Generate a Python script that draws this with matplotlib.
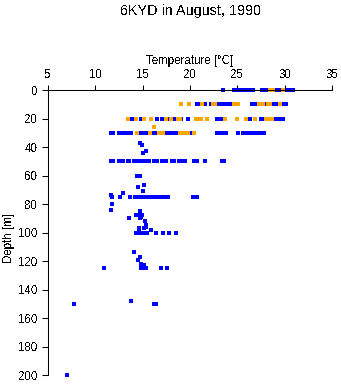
import matplotlib
matplotlib.use("Agg")
import matplotlib.pyplot as plt

plt.rcParams["font.family"] = ["Liberation Sans", "DejaVu Sans"]
plt.rcParams["text.antialiased"] = False
plt.rcParams["lines.antialiased"] = False

title = "6KYD in August, 1990"
x_label = "Temperature [°C]"
y_label = "Depth [m]"
x_ticks = [5, 10, 15, 20, 25, 30, 35]
y_ticks = [0, 20, 40, 60, 80, 100, 120, 140, 160, 180, 200]

# Series 1 (blue): temperature [°C] and depth [m] of each observation
s1_temp_0 = [23.5, 24.7, 24.9, 25.1, 25.3, 25.5, 25.7, 25.9, 26.1, 26.3, 26.5, 26.7,
             27.6, 27.8, 28.0, 28.2, 28.9, 29.1, 29.3, 29.5, 30.1, 30.3, 30.5, 30.7, 30.9]
s1_temp_10 = [20.7, 20.9, 21.1, 21.6, 22.2, 22.9, 23.1, 23.4, 23.6, 23.8, 24.2, 24.4,
              26.5, 26.7, 27.1, 28.0, 28.9, 29.1, 29.3, 29.8, 30.1]
s1_temp_20 = [13.7, 13.9, 14.8, 16.5, 17.0, 17.7, 18.3, 19.1, 19.8, 20.8, 22.9, 23.1,
              23.3, 26.3, 27.5, 27.7, 28.9, 29.1, 29.3, 29.4, 29.8]
s1_temp_30 = [11.7, 11.9, 12.5, 12.7, 12.9, 13.1, 13.3, 13.5, 13.7, 13.8, 14.7, 14.8,
              15.2, 15.4, 16.1, 16.3, 17.0, 17.4, 17.6, 17.8, 18.0, 18.4, 18.6, 20.1,
              22.8, 23.0, 23.3, 23.5, 23.7, 23.8, 25.1, 25.6, 25.9, 26.1, 26.3, 26.5,
              26.7, 26.9, 27.1, 27.3, 27.5, 27.8]
s1_temp_50 = [11.7, 11.9, 12.5, 12.7, 12.9, 13.4, 13.6, 14.1, 14.3, 14.5, 14.7, 14.9,
              15.1, 15.3, 15.7, 16.2, 16.5, 17.0, 17.5, 18.1, 18.3, 18.8, 19.0, 19.5,
              20.4, 20.7, 21.6, 23.4, 23.6]
s1_temp_75 = [11.8, 12.6, 13.7, 14.2, 14.4, 14.6, 14.8, 15.0, 15.2, 15.4, 15.6, 15.8,
              16.0, 16.2, 16.5, 16.7, 16.9, 17.1, 17.3, 17.7, 20.3, 20.7]
s1_temp_100 = [14.3, 14.5, 14.7, 14.9, 15.1, 15.3, 15.5, 16.4, 17.1, 17.8, 18.5]
s1_temp_125 = [10.9, 14.8, 15.0, 15.4, 16.9, 17.6]
s1_temp_150 = [7.7, 16.2, 16.4]
# Observations between the standard levels: (temperature, depth)
s1_other_temp = [14.7, 14.9, 15.4, 15.0, 14.4, 14.7, 14.5, 15.1, 15.0, 12.9, 11.7,
                 11.8, 11.7, 14.7, 14.3, 14.5, 14.9, 14.8, 13.6, 14.7, 15.2, 15.3,
                 15.4, 15.1, 14.6, 15.9, 14.6, 14.1, 14.5, 14.7, 14.8, 15.1, 14.8,
                 13.8, 7.0]
s1_other_depth = [37, 38.5, 43, 44.5, 60, 60, 68, 67, 71, 72.5, 74, 80, 84.5, 85,
                  88, 88, 88, 89, 90, 90, 92, 95, 96, 97, 97, 98, 99, 114, 119, 117,
                  122, 122.5, 124, 148, 200]

# Series 2 (orange)
s2_temp_0 = [28.4, 28.6, 28.8, 29.8]
s2_temp_10 = [19.1, 19.9, 21.3, 22.4, 22.6, 24.7, 24.9, 25.1, 27.3, 27.5, 27.7, 28.2,
              28.5, 29.5]
s2_temp_20 = [13.4, 14.3, 15.1, 15.9, 17.5, 18.0, 18.7, 18.9, 20.6, 21.0, 21.2, 21.8,
              23.7, 25.0, 25.9, 26.9, 28.0, 28.5, 28.7]
s2_temp_30 = [14.4, 15.8, 16.7, 17.2, 18.9, 19.1, 19.5, 19.8, 20.4]
s2_other_temp = [16.2]
s2_other_depth = [26]


def collect(levels, other_t, other_d):
    temps, depths = [], []
    for depth, values in levels:
        temps.extend(values)
        depths.extend([depth] * len(values))
    temps.extend(other_t)
    depths.extend(other_d)
    return temps, depths


s1_t, s1_d = collect([(0, s1_temp_0), (10, s1_temp_10), (20, s1_temp_20),
                      (30, s1_temp_30), (50, s1_temp_50), (75, s1_temp_75),
                      (100, s1_temp_100), (125, s1_temp_125), (150, s1_temp_150)],
                     s1_other_temp, s1_other_depth)
s2_t, s2_d = collect([(0, s2_temp_0), (10, s2_temp_10), (20, s2_temp_20),
                      (30, s2_temp_30)], s2_other_temp, s2_other_depth)

fig = plt.figure(figsize=(3.41, 3.84), dpi=100)
ax = fig.add_axes([0.1408, 0.0234, 0.8328, 0.7422])

ax.plot(s1_t, s1_d, linestyle="none", marker="s", ms=2.2, mew=0, color="#0000ff",
        clip_on=False)
ax.plot(s2_t, s2_d, linestyle="none", marker="s", ms=2.2, mew=0, color="#ffa500",
        clip_on=False)

ax.set_xlim(5, 35)
ax.set_ylim(200, 0)
ax.xaxis.tick_top()
ax.xaxis.set_label_position("top")
ax.set_xticks(x_ticks)
ax.set_yticks(y_ticks)
ax.tick_params(axis="x", direction="out", length=3.6, width=0.75, pad=3.2,
               labelsize=8.3)
ax.tick_params(axis="y", direction="out", length=4.4, width=0.75, pad=3.0,
               labelsize=8.3)
for side in ("right", "bottom"):
    ax.spines[side].set_visible(False)
for side in ("left", "top"):
    ax.spines[side].set_linewidth(0.75)

ax.set_xlabel(x_label, fontsize=8.3, labelpad=3.5)
ax.set_ylabel(y_label, fontsize=8.3)
ax.yaxis.set_label_coords(-0.115, 0.48)

fig.text(0.5575, 1 - 11 / 384, title, ha="center", va="center", fontsize=10.4)

fig.savefig("out.png", dpi=100)
